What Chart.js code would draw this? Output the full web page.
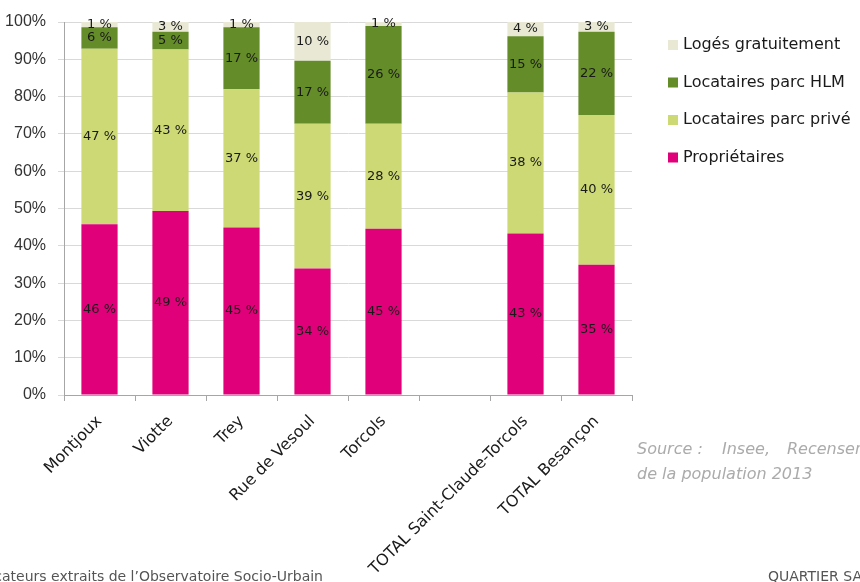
<!DOCTYPE html>
<html>
<head>
<meta charset="utf-8">
<script src="https://cdn.jsdelivr.net/npm/chart.js@4"></script>
<style>
  html, body { margin: 0; padding: 0; background: #fff; overflow: hidden; width: 860px; height: 582px; }
  #wrap { position: absolute; left: 0; top: 0; width: 860px; height: 582px; }
  .source { position: absolute; left: 637px; top: 436px; width: 260px; height: 60px; font-family: "DejaVu Sans", sans-serif;
            font-style: italic; font-size: 16px; line-height: 25px; color: #ababab; white-space: nowrap; }
  .source span { position: absolute; }
  .foot { position: absolute; top: 568px; font-family: "DejaVu Sans", sans-serif; font-size: 14px; color: #555; white-space: nowrap; }
</style>
</head>
<body>
<div id="wrap"><canvas id="myChart" width="860" height="582"></canvas></div>
<div class="source">
  <span style="left:0; top:0;">Source :</span>
  <span style="left:85px; top:0;">Insee,</span>
  <span style="left:150px; top:0;">Recensement</span>
  <span style="left:0; top:25px;">de la population 2013</span>
</div>
<div class="foot" style="right:537px;">Indicateurs extraits de l’Observatoire Socio-Urbain</div>
<div class="foot" style="left:768px;">QUARTIER SAINT-CLAUDE-TORCOLS</div>

<script>
var categories = ['Montjoux', 'Viotte', 'Trey', 'Rue de Vesoul', 'Torcols', '', 'TOTAL Saint-Claude-Torcols', 'TOTAL Besançon'];
var proprietaires = [45.8, 49.3, 44.9, 33.9, 44.6, null, 43.3, 34.9];
var locPrive = [47.0, 43.3, 37.1, 38.8, 28.1, null, 37.8, 40.2];
var locHLM = [5.8, 4.8, 16.6, 16.9, 26.2, null, 15.1, 22.3];
var logesGratuit = [1.4, 2.6, 1.4, 10.4, 1.1, null, 3.8, 2.6];
var yTicks = [0, 10, 20, 30, 40, 50, 60, 70, 80, 90, 100];

// labels in the middle of each segment
var segmentLabels = {
  id: 'segmentLabels',
  afterDatasetsDraw: function(chart) {
    var ctx = chart.ctx;
    ctx.save();
    ctx.font = '13px "DejaVu Sans"';
    ctx.fillStyle = '#1a1a1a';
    ctx.textAlign = 'center';
    ctx.textBaseline = 'middle';
    chart.data.datasets.forEach(function(ds, i) {
      var meta = chart.getDatasetMeta(i);
      meta.data.forEach(function(bar, j) {
        var v = ds.data[j];
        if (v === null) return;
        var p = bar.getProps(['x', 'y', 'base'], true);
        ctx.fillText(Math.round(v) + ' %', p.x, (p.y + p.base) / 2);
      });
    });
    ctx.restore();
  }
};

// legend on the right, top item first
var sideLegend = {
  id: 'sideLegend',
  afterDraw: function(chart) {
    var ctx = chart.ctx;
    var items = chart.data.datasets.slice().reverse();
    ctx.save();
    ctx.font = '16px "DejaVu Sans"';
    ctx.textBaseline = 'middle';
    items.forEach(function(ds, k) {
      var y = 45 + k * 37.5;
      ctx.fillStyle = ds.backgroundColor;
      ctx.fillRect(668, y - 5, 10, 10);
      ctx.fillStyle = '#1a1a1a';
      ctx.fillText(ds.label, 683, y);
    });
    ctx.restore();
  }
};

var ctx = document.getElementById('myChart').getContext('2d');
var myChart = new Chart(ctx, {
  type: 'bar',
  data: {
    labels: categories,
    datasets: [
      { label: 'Propriétaires', data: proprietaires, backgroundColor: '#e0007a' },
      { label: 'Locataires parc privé', data: locPrive, backgroundColor: '#cdd975' },
      { label: 'Locataires parc HLM', data: locHLM, backgroundColor: '#648c28' },
      { label: 'Logés gratuitement', data: logesGratuit, backgroundColor: '#e8e8d4' }
    ]
  },
  options: {
    responsive: false,
    animation: false,
    layout: { padding: { top: 22, right: 228, bottom: 0, left: 0 } },
    datasets: { bar: { categoryPercentage: 1, barPercentage: 0.51, borderWidth: 0 } },
    plugins: { legend: { display: false }, tooltip: { enabled: false } },
    scales: {
      x: {
        stacked: true,
        afterFit: function(scale) { scale.height = 187; },
        grid: { display: true, drawOnChartArea: false, drawTicks: true, tickLength: 6, color: '#a6a6a6', offset: true },
        border: { color: '#a6a6a6' },
        ticks: { autoSkip: false, minRotation: 45, maxRotation: 45, padding: 11, color: '#1a1a1a',
                 font: { family: 'DejaVu Sans', size: 16 } }
      },
      y: {
        stacked: true,
        min: 0,
        max: 100,
        afterFit: function(scale) { scale.width = 64; },
        afterBuildTicks: function(scale) { scale.ticks = yTicks.map(function(v) { return { value: v }; }); },
        grid: { color: '#d9d9d9', tickLength: 6 },
        border: { color: '#a6a6a6' },
        ticks: { padding: 12, color: '#333333', font: { family: 'Liberation Sans', size: 16 },
                 callback: function(v) { return v + '%'; } }
      }
    }
  },
  plugins: [segmentLabels, sideLegend]
});
</script>
</body>
</html>
